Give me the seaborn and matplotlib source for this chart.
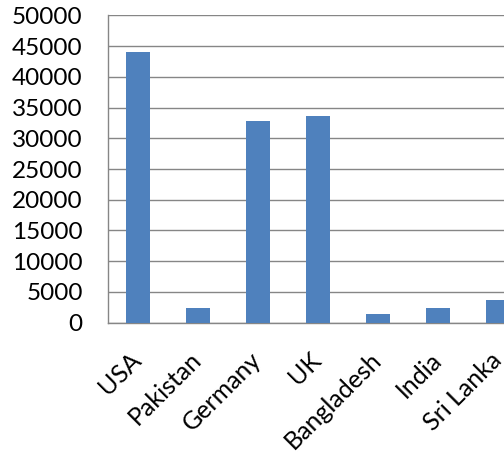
import matplotlib
matplotlib.use("Agg")
import matplotlib.pyplot as plt
import matplotlib.transforms as mtransforms
import numpy as np
import pandas as pd
import seaborn as sns

countries = ["USA", "Pakistan", "Germany", "UK", "Bangladesh", "India", "Sri Lanka"]
values = [44000, 2400, 32800, 33700, 1400, 2400, 3700]
y_ticks = [0, 5000, 10000, 15000, 20000, 25000, 30000, 35000, 40000, 45000, 50000]

sns.set_theme(style="white")
plt.rcParams["font.family"] = ["Lato", "DejaVu Sans"]

df = pd.DataFrame({"country": countries, "value": values})

fig = plt.figure(figsize=(5.04, 4.54), dpi=100)
# plot area runs past the right edge of the canvas
ax = fig.add_axes([107.7 / 504, (454 - 322.7) / 454, 420 / 504, 307.4 / 454])

grid_col = "#868686"
sns.barplot(data=df, x="country", y="value", order=countries, color="#4F81BD",
            width=0.4, saturation=1, edgecolor="none", ax=ax, zorder=3)

ax.set_xlim(-0.5, len(countries) - 0.5)
ax.set_ylim(0, 50000)
ax.set_yticks(y_ticks)
ax.set_yticklabels([str(v) for v in y_ticks])
ax.yaxis.grid(True, color=grid_col, linewidth=1.0, zorder=0)
ax.set_axisbelow(True)

ax.set_xticks(range(len(countries)))
ax.set_xticklabels(countries, rotation=45, ha="right", va="center",
                   rotation_mode="anchor")
shift = mtransforms.ScaledTranslation(1 / 100, 0, fig.dpi_scale_trans)
for lab in ax.get_xticklabels():
    lab.set_transform(lab.get_transform() + shift)
ax.set_xticks(np.arange(-0.5, len(countries), 1.0), minor=True)
ax.tick_params(axis="x", which="major", length=0, pad=24, labelsize=18, colors="black")
ax.tick_params(axis="x", which="minor", length=6, width=1.0, color=grid_col, direction="out")
ax.tick_params(axis="y", length=6, width=1.0, color=grid_col, direction="out",
               pad=12, labelsize=17.5, labelcolor="black")
ax.tick_params(axis="x", labelcolor="black")

ax.set_xlabel("")
ax.set_ylabel("")
for side in ["top", "right"]:
    ax.spines[side].set_visible(False)
for side in ["left", "bottom"]:
    ax.spines[side].set_color(grid_col)
    ax.spines[side].set_linewidth(1.0)

fig.savefig("out.png", dpi=100)
